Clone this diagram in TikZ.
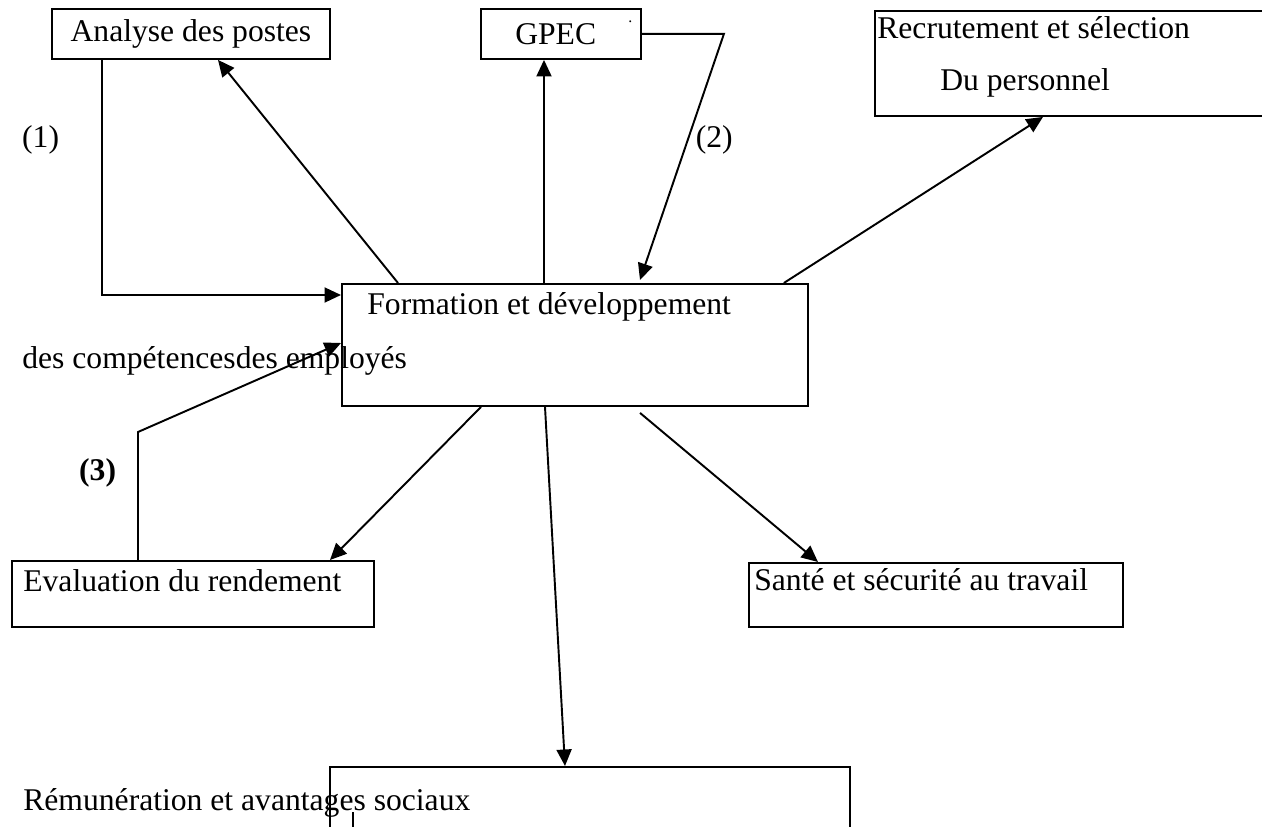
\documentclass[tikz,border=0pt]{standalone}
\usepackage{fontspec}
\setmainfont{Liberation Serif}
\usepackage{tikz}
\usetikzlibrary{arrows.meta, positioning, calc}

\begin{document}
\begin{tikzpicture}[
  x=0.02cm, y=-0.02cm,
  font=\fontsize{18}{22}\selectfont,
  box/.style   = {rectangle, draw, line width=1.1pt, anchor=north west,
                  inner sep=0pt},
  lbl/.style   = {anchor=west, inner sep=0pt},
  arrow/.style = {-{Triangle[length=0.33cm, width=0.3cm]}, line width=1.1pt},
  line/.style  = {line width=1.1pt}
]
\useasboundingbox (0,0) rectangle (1262,827);

%% Top row
\node[box, minimum width=5.56cm, minimum height=1.0cm] (analyse) at (51,8)
  {Analyse des postes};
\node[box, minimum width=3.2cm, minimum height=1.0cm] (gpec) at (480,8)
  {\hspace{-6pt}GPEC};
\node[lbl, font=\small] (gpecdot) at (628,22) {.};
\node[box, minimum width=8.0cm, minimum height=2.1cm] (recrut) at (874,10) {};
\node[lbl] (recruttxt) at (877,28) {Recrutement et sélection};
\node[lbl] (perstxt) at (940,83) {Du personnel};

%% Centre
\node[box, minimum width=9.32cm, minimum height=2.44cm] (frm) at (341,283) {};
\node[lbl] (frmtxt) at (367,307) {Formation et développement};
\node[lbl] (comptxt) at (22,361) {des compétencesdes employés};

%% Bottom row
\node[box, minimum width=7.24cm, minimum height=1.32cm] (eval) at (11,560) {};
\node[lbl] (evaltxt) at (23,581) {Evaluation du rendement};
\node[box, minimum width=7.48cm, minimum height=1.28cm] (sante) at (748,562) {};
\node[lbl] (santetxt) at (754,580) {Santé et sécurité au travail};
\node[box, minimum width=10.4cm, minimum height=2.0cm] (remun) at (329,766) {};
\node[lbl] (remuntxt) at (23,803) {Rémunération et avantages sociaux};
\coordinate (tick) at (353,812);
\draw[line] (tick) -- ++(0,20);

%% Arrows
\draw[arrow] ($(analyse.south west)+(51,0)$)
  |- node[pos=0.17, left=0.84cm, lbl, anchor=east] {(1)}
  ($(frm.north west)+(0,12)$);
\draw[arrow] ($(frm.north west)+(57,0)$) -- ($(analyse.south west)+(167,0)$);
\draw[arrow] ($(frm.north west)+(203,0)$) -- ($(gpec.south west)+(64,0)$);
\draw[arrow] (gpec.east) -- ++(82,0)
  -- node[pos=0.43, right=0.14cm, lbl] {(2)} ($(frm.north west)+(299,-3)$);
\draw[arrow] ($(frm.north east)+(-25,0)$) -- ($(recrut.south west)+(169,0)$);
\draw[arrow] ($(eval.north west)+(127,0)$)
  -- node[pos=0.68, left=0.42cm, lbl, anchor=east] {\textbf{(3)}} ++(0,-128)
  -- ($(frm.north west)+(0,60)$);
\draw[arrow] ($(frm.south west)+(140,0)$) -- ($(eval.north west)+(319,0)$);
\draw[arrow] ($(frm.south west)+(204,0)$) -- ($(remun.north west)+(236,0)$);
\draw[arrow] ($(frm.south west)+(299,6)$) -- ($(sante.north west)+(70,0)$);

\end{tikzpicture}
\end{document}
